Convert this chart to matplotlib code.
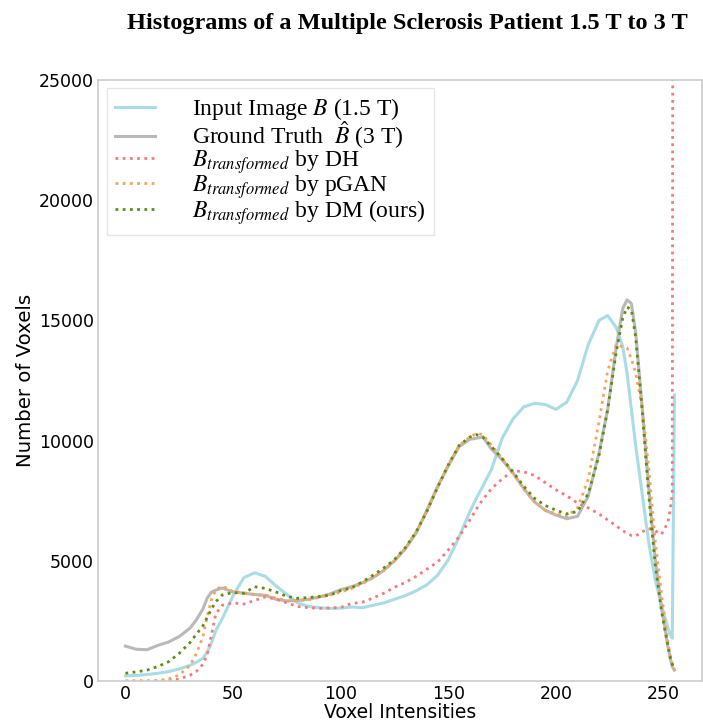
import matplotlib
matplotlib.use("Agg")
from matplotlib import pyplot as plt

# voxel intensity grid (values at these intensities)
intensity = [0, 5, 10, 15, 20, 25, 30, 33, 36, 38, 40, 42, 45, 50, 55, 60, 65, 70, 75, 80,
             85, 90, 95, 100, 105, 110, 115, 120, 125, 130, 135, 140, 145, 150, 155, 160,
             163, 166, 170, 175, 180, 185, 190, 195, 200, 205, 210, 215, 220, 224, 228,
             231, 233, 235, 237, 240, 243, 246, 249, 252, 253, 254, 255]

input_15t = [210, 230, 270, 320, 390, 500, 650, 780, 950, 1200, 1600, 2100, 2600, 3550,
             4300, 4500, 4350, 3950, 3600, 3250, 3100, 3050, 3020, 3030, 3080, 3050, 3150,
             3250, 3400, 3550, 3750, 4000, 4400, 5050, 6000, 7050, 7600, 8100, 8800, 10100,
             10900, 11400, 11550, 11500, 11300, 11600, 12500, 14000, 15000, 15200, 14700,
             13900, 12800, 11300, 9800, 7800, 5800, 4250, 3150, 2200, 1950, 1780, 11900]

truth_3t = [1450, 1320, 1300, 1480, 1620, 1850, 2200, 2550, 3000, 3450, 3700, 3780, 3870,
            3700, 3650, 3600, 3560, 3400, 3330, 3350, 3400, 3500, 3620, 3800, 3920, 4080,
            4300, 4600, 5000, 5500, 6150, 7100, 8100, 8950, 9750, 10050, 10100, 10150, 9650,
            9200, 8650, 8000, 7450, 7100, 6900, 6750, 6850, 7700, 9500, 11300, 13900, 15500,
            15850, 15700, 14500, 11400, 8100, 5150, 3030, 1430, 970, 600, 450]

dh = [0, 0, 0, 0, 20, 80, 240, 400, 700, 1100, 1950, 2800, 3150, 3250, 3200, 3350, 3500,
      3400, 3250, 3100, 3050, 3020, 3040, 3060, 3220, 3280, 3450, 3650, 3900, 4100, 4350,
      4650, 4950, 5450, 6000, 6700, 7150, 7550, 8000, 8400, 8750, 8700, 8550, 8250, 7950,
      7700, 7400, 7200, 6950, 6700, 6450, 6250, 6150, 6050, 6030, 6200, 6350, 6250, 6100,
      6600, 7100, 7800, 90000]

pgan = [0, 0, 0, 20, 80, 250, 650, 1150, 1850, 2700, 3400, 3800, 3950, 3720, 3670, 3580,
        3570, 3450, 3330, 3330, 3380, 3480, 3580, 3700, 3850, 4050, 4300, 4600, 5000, 5500,
        6200, 7050, 8050, 9000, 9800, 10150, 10300, 10250, 9800, 9250, 8650, 8000, 7450,
        7100, 6950, 6850, 7200, 8400, 10800, 12900, 14000, 13900, 13850, 13400, 12800,
        11400, 8900, 5900, 3600, 1600, 1100, 700, 450]

dm = [320, 380, 450, 600, 800, 1150, 1600, 1950, 2300, 2650, 3000, 3300, 3580, 3680, 3650,
      3920, 3850, 3700, 3520, 3440, 3470, 3510, 3570, 3760, 3870, 4120, 4400, 4700, 5050,
      5550, 6200, 7050, 8050, 9000, 9800, 10150, 10250, 10150, 9750, 9250, 8700, 8100,
      7600, 7300, 7100, 6950, 7050, 7800, 9400, 11300, 13700, 15100, 15550, 15450, 14300,
      11300, 7800, 4900, 2900, 1450, 1000, 700, 500]

labels = ["Input Image $B$ (1.5 T)",
          r"Ground Truth  $\hat{B}$ (3 T)",
          "$B_{transformed}$ by DH",
          "$B_{transformed}$ by pGAN",
          "$B_{transformed}$ by DM (ours)"]

plt.rcParams['mathtext.fontset'] = 'stix'
dots = (0, (1, 1.6))

fig = plt.figure(figsize=(7.03, 7.23), dpi=100)
ax = fig.add_axes([0.1394, 0.0581, 0.859, 0.8313])

ax.plot(intensity, input_15t, color='#a9dce4', lw=2.2, label=labels[0])
ax.plot(intensity, truth_3t, color='#b9b9b9', lw=2.2, label=labels[1])
ax.plot(intensity, dh, color='#f27b7b', lw=2.0, linestyle=dots, label=labels[2])
ax.plot(intensity, pgan, color='#f8a35c', lw=2.0, linestyle=dots, label=labels[3])
ax.plot(intensity, dm, color='#5e8c14', lw=2.0, linestyle=dots, label=labels[4])

ax.set_xlim(-12.75, 267.75)
ax.set_ylim(0, 25000)
ax.set_xticks([0, 50, 100, 150, 200, 250])
ax.set_yticks([0, 5000, 10000, 15000, 20000, 25000])
ax.tick_params(length=0, labelsize=12.5, pad=3)
for s in ax.spines.values():
    s.set_color('#cccccc')
    s.set_linewidth(1.2)

ax.set_xlabel('Voxel Intensities', fontsize=13.5, labelpad=0)
ax.set_ylabel('Number of Voxels', fontsize=14.2, labelpad=3)

leg = ax.legend(loc='upper left', bbox_to_anchor=(0.015, 0.987), borderaxespad=0,
                prop={'family': 'Liberation Serif', 'size': 17},
                handlelength=1.7, handletextpad=1.55, labelspacing=-0.12,
                borderpad=0.35, fancybox=False, framealpha=1)
leg.get_frame().set_edgecolor('#e6e6e6')

fig.text(0.58, 0.967, 'Histograms of a Multiple Sclerosis Patient 1.5 T to 3 T',
         ha='center', va='center', fontsize=17.5, fontweight='bold',
         family='Liberation Serif')

plt.savefig('out.png')
